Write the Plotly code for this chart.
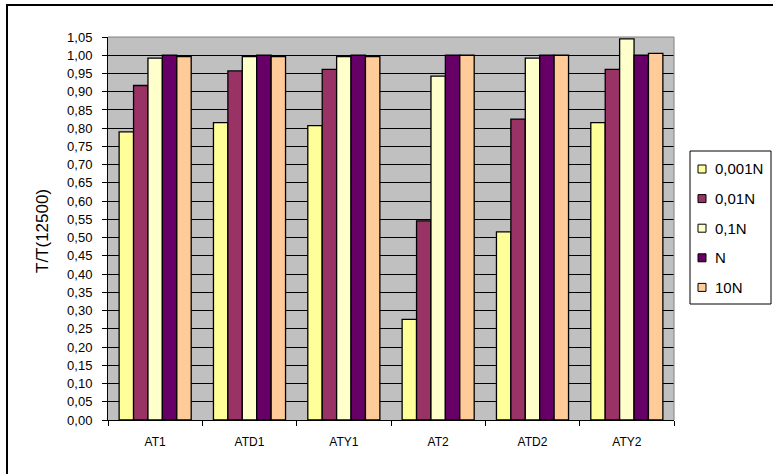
import plotly.graph_objects as go

# Samples on the x axis
categories = ["AT1", "ATD1", "ATY1", "AT2", "ATD2", "ATY2"]

# Normalised T/T(12500) per load level
series_names = ["0,001N", "0,01N", "0,1N", "N", "10N"]
v_0001N = [0.790, 0.815, 0.807, 0.276, 0.516, 0.815]
v_001N = [0.917, 0.957, 0.961, 0.546, 0.825, 0.961]
v_01N = [0.992, 0.996, 0.996, 0.943, 0.992, 1.045]
v_N = [1.000, 1.000, 1.000, 1.000, 1.000, 1.000]
v_10N = [0.996, 0.996, 0.996, 1.000, 1.000, 1.005]

series_values = [v_0001N, v_001N, v_01N, v_N, v_10N]
colors = ["#FFFF99", "#993366", "#FFFFCC", "#660066", "#FFCC99"]

W, H = 773, 474
ML, MR, MT, MB = 108, 99, 37, 54
PW = W - ML - MR
PH = H - MT - MB
FONT = "Arial, Liberation Sans, sans-serif"

fig = go.Figure()
for name, vals, col in zip(series_names, series_values, colors):
    fig.add_trace(go.Bar(
        x=categories, y=vals, name=name, showlegend=False,
        marker=dict(color=col, line=dict(color="#000000", width=1.3)),
    ))


def px_x(p):
    return (p - ML) / PW


def px_y(p):
    return (H - MB - p) / PH


shapes = [
    # grey frame on the top and right of the plot area
    dict(type="line", xref="paper", yref="paper", x0=0, x1=1, y0=1, y1=1,
         line=dict(color="#808080", width=1)),
    dict(type="line", xref="paper", yref="paper", x0=1, x1=1, y0=0, y1=1,
         line=dict(color="#808080", width=1)),
    # outer chart border
    dict(type="rect", xref="paper", yref="paper",
         x0=px_x(7), x1=px_x(790), y0=px_y(490), y1=px_y(5),
         line=dict(color="#000000", width=2), layer="above"),
    # legend box
    dict(type="rect", xref="paper", yref="paper",
         x0=px_x(690), x1=px_x(771), y0=px_y(304), y1=px_y(151),
         line=dict(color="#000000", width=1), fillcolor="white", layer="above"),
]
annotations = [
    dict(text="T/T(12500)", xref="paper", yref="paper",
         x=px_x(42), y=px_y(231), xanchor="center", yanchor="middle",
         textangle=-90, showarrow=False, font=dict(size=17, family=FONT)),
]

# legend entries: small outlined swatch plus label
for i, (name, col) in enumerate(zip(series_names, colors)):
    cy = 169 + 29.6 * i
    shapes.append(dict(
        type="rect", xref="paper", yref="paper",
        x0=px_x(698), x1=px_x(706), y0=px_y(cy + 4), y1=px_y(cy - 4),
        line=dict(color="#000000", width=1), fillcolor=col, layer="above"))
    annotations.append(dict(
        text=name, xref="paper", yref="paper", x=px_x(713), y=px_y(cy),
        xanchor="left", yanchor="middle", showarrow=False,
        font=dict(size=15, family=FONT)))

fig.update_layout(
    width=W, height=H,
    margin=dict(l=ML, r=MR, t=MT, b=MB, pad=0),
    paper_bgcolor="white",
    plot_bgcolor="#C0C0C0",
    separators=", ",
    barmode="group",
    bargap=0.236,
    bargroupgap=0,
    font=dict(family=FONT, color="#000000", size=12),
    showlegend=False,
    xaxis=dict(
        type="category",
        showgrid=False,
        showline=True, linecolor="#000000", linewidth=1,
        ticks="outside", tickson="boundaries", ticklen=5,
        tickcolor="#000000", tickfont=dict(size=12),
        ticklabelstandoff=11,
    ),
    yaxis=dict(
        range=[0, 1.05], dtick=0.05, tick0=0, tickformat=".2f",
        showgrid=True, gridcolor="#000000", gridwidth=1,
        showline=True, linecolor="#000000", linewidth=1,
        ticks="outside", ticklen=5, tickcolor="#000000",
        tickfont=dict(size=13), zeroline=False,
        ticklabelstandoff=7,
    ),
    shapes=shapes,
    annotations=annotations,
)

fig.write_html("out.html")
